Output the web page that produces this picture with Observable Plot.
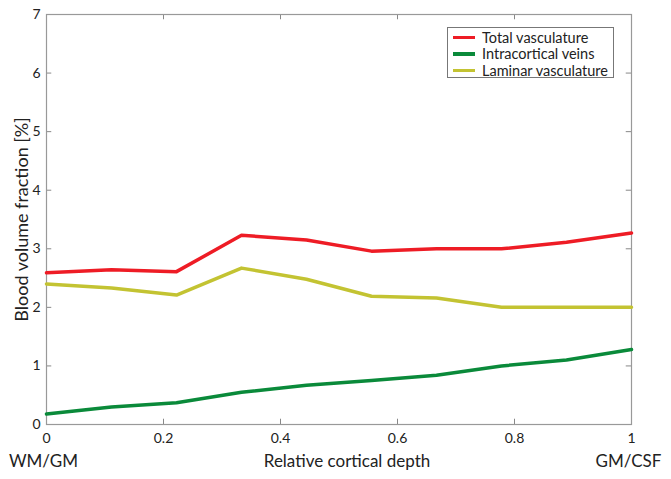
<!DOCTYPE html>
<html>
<head>
<meta charset="utf-8">
<script src="https://cdn.jsdelivr.net/npm/d3@7"></script>
<script src="https://cdn.jsdelivr.net/npm/@observablehq/plot@0.6"></script>
<style>
  body { margin: 0; background: #fff; }
  #wrap { position: relative; width: 671px; height: 479px; font-family: Lato, "Open Sans", sans-serif; }
  #legend { position: absolute; left: 447px; top: 27px; width: 167px; height: 51px; border: 1px solid #777; background: #fff; box-sizing: border-box; padding-top: 1px; }
  .row { display: flex; align-items: center; height: 16.5px; font-size: 14.5px; color: #222; }
  .sw { width: 22px; height: 3.5px; margin-left: 5px; margin-right: 7px; }
</style>
</head>
<body>
<div id="wrap"></div>
<script>
const depth = [0, 1/9, 2/9, 3/9, 4/9, 5/9, 6/9, 7/9, 8/9, 1];
const total = [2.59, 2.64, 2.61, 3.23, 3.15, 2.96, 3.00, 3.00, 3.11, 3.27];
const veins = [0.18, 0.30, 0.37, 0.55, 0.67, 0.75, 0.84, 1.00, 1.10, 1.28];
const laminar = [2.40, 2.33, 2.21, 2.67, 2.48, 2.19, 2.16, 2.00, 2.00, 2.00];
const seriesNames = ["Total vasculature", "Intracortical veins", "Laminar vasculature"];
const seriesColors = ["#ee1c25", "#0a8a3a", "#c3c332"];
const xTicks = [0, 0.2, 0.4, 0.6, 0.8, 1];
const yTicks = [0, 1, 2, 3, 4, 5, 6, 7];

const rows = [];
[total, veins, laminar].forEach((vals, s) => {
  vals.forEach((v, i) => rows.push({series: seriesNames[s], depth: depth[i], value: v}));
});

const tickC = "#888";
const chart = Plot.plot({
  width: 671,
  height: 479,
  marginLeft: 46,
  marginRight: 40,
  marginTop: 14,
  marginBottom: 55,
  style: {fontFamily: "Lato, 'Open Sans', sans-serif", fontSize: "14px", color: "#222", background: "#fff"},
  x: {domain: [0, 1], ticks: xTicks, tickFormat: d => String(d), tickSize: 0, tickPadding: 9, label: null},
  y: {domain: [0, 7], ticks: yTicks, tickFormat: d => String(d), tickSize: 0, tickPadding: 6, label: "Blood volume fraction [%]", labelAnchor: "center", labelArrow: "none", labelOffset: 31},
  color: {domain: seriesNames, range: seriesColors},
  marks: [
    Plot.ruleX(xTicks.slice(1, -1), {y1: 0, y2: 0.09, stroke: tickC}),
    Plot.ruleX(xTicks.slice(1, -1), {y1: 7 - 0.09, y2: 7, stroke: tickC}),
    Plot.ruleY(yTicks.slice(1, -1), {x1: 0, x2: 0.009, stroke: tickC}),
    Plot.ruleY(yTicks.slice(1, -1), {x1: 1 - 0.009, x2: 1, stroke: tickC}),
    Plot.frame({stroke: "#999", strokeWidth: 1.2}),
    Plot.line(rows, {x: "depth", y: "value", z: "series", stroke: "series", strokeWidth: 3.5, strokeLinejoin: "round"}),
    Plot.text(["WM/GM"], {frameAnchor: "bottom-left", dx: -3, dy: 42, text: d => d, textAnchor: "middle", fontSize: 17, fill: "#222"}),
    Plot.text(["Relative cortical depth"], {frameAnchor: "bottom", dx: 8, dy: 42, text: d => d, fontSize: 17, fill: "#222"}),
    Plot.text(["GM/CSF"], {frameAnchor: "bottom-right", dx: -3, dy: 42, text: d => d, textAnchor: "middle", fontSize: 17, fill: "#222"})
  ]
});
chart.querySelectorAll("[aria-label='y-axis label']").forEach(g => g.setAttribute("font-size", "18"));
const wrap = document.getElementById("wrap");
wrap.appendChild(chart);

const legend = document.createElement("div");
legend.id = "legend";
seriesNames.forEach((n, i) => {
  const r = document.createElement("div");
  r.className = "row";
  const sw = document.createElement("span");
  sw.className = "sw";
  sw.style.background = seriesColors[i];
  const t = document.createElement("span");
  t.textContent = n;
  r.appendChild(sw); r.appendChild(t);
  legend.appendChild(r);
});
wrap.appendChild(legend);
</script>
</body>
</html>
